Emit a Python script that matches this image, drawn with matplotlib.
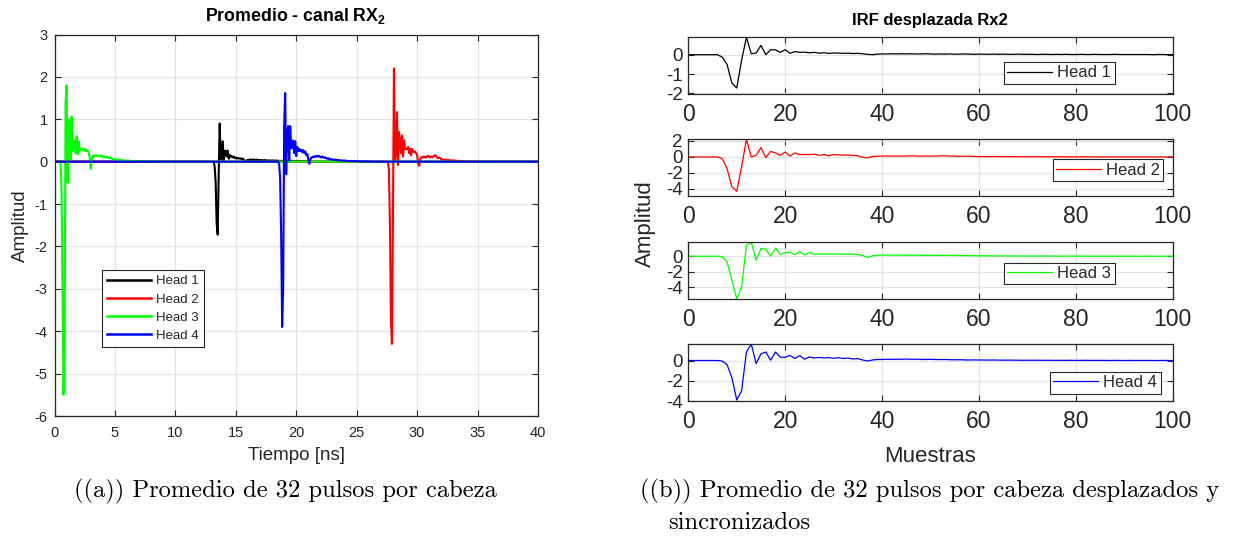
import numpy as np
import matplotlib
matplotlib.use('Agg')
import matplotlib.pyplot as plt

# ---------------- data ----------------
heads = ['Head 1', 'Head 2', 'Head 3', 'Head 4']
colors = ['#000000', '#ff0000', '#00ff00', '#0000ff']

irf_h1 = [0, 0, 0, 0, 0, 0, 0,
          -0.12, -0.5, -1.47, -1.72, -0.3, 0.9,
          0.05, 0.09, 0.48, 0.0, 0.26, 0.25, 0.12, 0.26,
          0.07, 0.16, 0.12, 0.13, 0.1, 0.12, 0.08, 0.1, 0.07, 0.09,
          0.08, 0.07, 0.08, 0.06, 0.07, 0.05, 0.02, 0.0, 0.03, 0.04,
          0.04, 0.05, 0.04, 0.05, 0.04, 0.05, 0.04, 0.04, 0.05, 0.04,
          0.03, 0.04, 0.03, 0.04, 0.03, 0.03, 0.04, 0.03, 0.02, 0.03,
          0.03, 0.02, 0.03, 0.02, 0.03, 0.02, 0.02, 0.03, 0.02, 0.02,
          0.02, 0.01, 0.02, 0.02, 0.01, 0.02, 0.01, 0.02, 0.01, 0.01,
          0.02, 0.01, 0.01, 0.02, 0.01, 0.01, 0.01, 0.02, 0.01, 0.01,
          0.01, 0.01, 0.01, 0.01, 0.01, 0.0, 0.01, 0.01, 0.0, 0.01]
irf_h2 = [0, 0, 0, 0, 0, 0, 0,
          -0.2, -1.46, -3.75, -4.3, -1.25, 2.2,
          0.0, 0.2, 1.17, -0.08, 0.7, 0.5, 0.2, 0.62,
          0.12, 0.5, 0.3, 0.3, 0.3, 0.35, 0.2, 0.3, 0.15, 0.3,
          0.25, 0.22, 0.24, 0.2, 0.15, -0.05, -0.1, 0.05, 0.1, 0.1,
          0.12, 0.1, 0.12, 0.1, 0.12, 0.14, 0.12, 0.1, 0.12, 0.1,
          0.12, 0.14, 0.15, 0.12, 0.1, 0.08, 0.1, 0.08, 0.06, 0.05,
          0.05, 0.04, 0.05, 0.04, 0.03, 0.04, 0.03, 0.03, 0.02, 0.03,
          0.02, 0.03, 0.02, 0.02, 0.02, 0.01, 0.02, 0.01, 0.02, 0.01,
          0.01, 0.02, 0.01, 0.01, 0.01, 0.01, 0.0, 0.01, 0.01, 0.0,
          0.01, 0.0, 0.01, 0.0, 0.01, 0.0, 0.0, 0.01, 0.0, 0.0]
irf_h3 = [0, 0, 0, 0, 0, 0, 0,
          -0.05, -0.72, -3.06, -5.5, -4.0, 1.4,
          1.8, -0.5, 1.0, 0.9, 0.0, 1.06, 0.25, 0.47,
          0.5, 0.2, 0.6, 0.17, 0.47, 0.25, 0.3, 0.28, 0.3, 0.27,
          0.3, 0.25, 0.28, 0.25, 0.22, 0.1, -0.17, 0.05, 0.12, 0.15,
          0.14, 0.15, 0.13, 0.15, 0.14, 0.12, 0.15, 0.13, 0.1, 0.12,
          0.11, 0.1, 0.12, 0.1, 0.08, 0.1, 0.08, 0.07, 0.06, 0.05,
          0.06, 0.05, 0.04, 0.05, 0.04, 0.03, 0.04, 0.03, 0.03, 0.02,
          0.03, 0.02, 0.02, 0.03, 0.02, 0.02, 0.01, 0.02, 0.01, 0.01,
          0.02, 0.01, 0.01, 0.01, 0.01, 0.0, 0.01, 0.01, 0.0, 0.01,
          0.0, 0.01, 0.0, 0.0, 0.01, 0.0, 0.0, 0.0, 0.01, 0.0]
irf_h4 = [0, 0, 0, 0, 0, 0, 0,
          -0.05, -0.4, -1.7, -3.9, -3.0, 0.84,
          1.62, -0.3, 0.65, 0.84, 0.03, 0.84, 0.32, 0.32,
          0.5, 0.2, 0.48, 0.13, 0.35, 0.25, 0.3, 0.25, 0.28, 0.22,
          0.27, 0.2, 0.24, 0.15, 0.18, 0.05, -0.05, 0.05, 0.1, 0.1,
          0.12, 0.11, 0.13, 0.12, 0.14, 0.12, 0.13, 0.11, 0.1, 0.12,
          0.1, 0.09, 0.1, 0.08, 0.07, 0.08, 0.06, 0.05, 0.06, 0.05,
          0.05, 0.04, 0.05, 0.04, 0.03, 0.04, 0.03, 0.03, 0.02, 0.03,
          0.02, 0.03, 0.02, 0.02, 0.02, 0.01, 0.02, 0.01, 0.02, 0.01,
          0.01, 0.02, 0.01, 0.01, 0.01, 0.01, 0.0, 0.01, 0.01, 0.0,
          0.01, 0.0, 0.01, 0.0, 0.01, 0.0, 0.0, 0.01, 0.0, 0.0]
irfs = [irf_h1, irf_h2, irf_h3, irf_h4]

# arrival time (ns) of the negative peak of each head in the raw record
dip_time_ns = [13.47, 27.89, 0.78, 18.83]
dip_sample = 10            # sample index of negative peak in the aligned IRF
sample_period_ns = 1 / 12  # ns per sample
record_ns = 40

irf_ylims = [(-2.03, 0.93), (-4.9, 2.25), (-5.5, 1.83), (-3.95, 1.63)]
irf_yticks = [[-2, -1, 0], [-4, -2, 0, 2], [-4, -2, 0], [-4, -2, 0]]
samples_xticks = [0, 20, 40, 60, 80, 100]
time_xticks = [0, 5, 10, 15, 20, 25, 30, 35, 40]
amp_yticks = [-6, -5, -4, -3, -2, -1, 0, 1, 2, 3]

# ---------------- style ----------------
plt.rcParams['font.family'] = ['Liberation Sans', 'DejaVu Sans']
plt.rcParams['mathtext.fontset'] = 'custom'
plt.rcParams['mathtext.rm'] = 'Liberation Sans'
plt.rcParams['mathtext.bf'] = 'Liberation Sans:bold'
plt.rcParams['axes.unicode_minus'] = False
DARK = '#262626'
GRID = '#e3e3e3'

W, H = 1238, 542
fig = plt.figure(figsize=(W / 100, H / 100), dpi=100)


def style(ax, xsize, ysize, xpad, ypad):
    ax.grid(True, color=GRID, lw=0.9)
    ax.set_axisbelow(True)
    for sp in ax.spines.values():
        sp.set_color(DARK)
        sp.set_linewidth(0.9)
    ax.tick_params(direction='in', top=True, right=True, length=4,
                   width=0.8, colors=DARK)
    ax.tick_params(axis='x', labelsize=xsize, pad=xpad)
    ax.tick_params(axis='y', labelsize=ysize, pad=ypad)


def box(x0, ytop, x1, ybot):
    return [x0 / W, 1 - ybot / H, (x1 - x0) / W, (ybot - ytop) / H]


# ---------------- left panel ----------------
axl = fig.add_axes(box(54.5, 34.5, 538, 416))
n = int(round(record_ns / sample_period_ns)) + 1
t = np.arange(n) * sample_period_ns
for name, col, w, td in zip(heads, colors, irfs, dip_time_ns):
    y = np.zeros(n)
    s = int(round(td / sample_period_ns)) - dip_sample
    for j, v in enumerate(w):
        k = s + j
        if 0 <= k < n:
            y[k] = v
    axl.plot(t, y, color=col, lw=1.5, label=name)
axl.set_xlim(0, 40)
axl.set_ylim(-6, 3)
axl.set_xticks(time_xticks)
axl.set_yticks(amp_yticks)
style(axl, 10.5, 10.5, 7, 5)
leg = axl.legend(loc='upper left', bbox_to_anchor=(0.098, 0.383),
                 borderaxespad=0, fontsize=9.5, handlelength=3.3,
                 handletextpad=0.4, labelspacing=0.45, borderpad=0.4,
                 fancybox=False, framealpha=1, edgecolor=DARK)
leg.get_frame().set_linewidth(0.8)
for ln in leg.get_lines():
    ln.set_linewidth(1.8)
for tx in leg.get_texts():
    tx.set_color(DARK)

fig.text(296 / W, 1 - 16 / H, r'Promedio - canal RX$_\mathbf{2}$',
         ha='center', va='center', fontsize=12.8, fontweight='bold')
fig.text(296 / W, 1 - 455 / H, 'Tiempo [ns]', ha='center', va='center',
         fontsize=13.5, color=DARK)
fig.text(20 / W, 1 - 226 / H, 'Amplitud', ha='center', va='center',
         rotation=90, fontsize=13.5, color=DARK)

# ---------------- right panels ----------------
tops = [36.7, 139, 242, 344]
bots = [94, 196, 299, 401]
leg_anchor = [(0.652, 0.558), (0.752, 0.644), (0.652, 0.637), (0.747, 0.509)]
samples = np.arange(len(irf_h1))
for i in range(4):
    ax = fig.add_axes(box(688.3, tops[i], 1172.7, bots[i]))
    ax.plot(samples, irfs[i], color=colors[i], lw=0.9, label=heads[i])
    ax.set_xlim(0, 100)
    ax.set_ylim(*irf_ylims[i])
    ax.set_xticks(samples_xticks)
    ax.set_yticks(irf_yticks[i])
    style(ax, 16.5, 13.5, 6.5, 4)
    lg = ax.legend(loc='upper left', bbox_to_anchor=leg_anchor[i],
                   borderaxespad=0, fontsize=12, handlelength=2.7,
                   handletextpad=0.3, borderpad=0.2, fancybox=False,
                   framealpha=1, edgecolor=DARK)
    lg.get_frame().set_linewidth(0.8)
    for tx in lg.get_texts():
        tx.set_color(DARK)

fig.text(930 / W, 1 - 20 / H, 'IRF desplazada Rx2', ha='center',
         va='center', fontsize=12, fontweight='bold')
fig.text(930 / W, 1 - 457 / H, 'Muestras', ha='center', va='center',
         fontsize=16, color=DARK)
fig.text(645 / W, 1 - 224 / H, 'Amplitud', ha='center', va='center',
         rotation=90, fontsize=16, color=DARK)

# ---------------- captions ----------------
cap = dict(fontfamily=['cmr10', 'DejaVu Serif'], fontsize=17.7, va='center')
fig.text(285 / W, 1 - 491 / H, '((a)) Promedio de 32 pulsos por cabeza',
         ha='center', **cap)
fig.text(640 / W, 1 - 491 / H,
         '((b)) Promedio de 32 pulsos por cabeza desplazados y',
         ha='left', **cap)
fig.text(668 / W, 1 - 523 / H, 'sincronizados', ha='left', **cap)

fig.savefig('out.png', dpi=100)
